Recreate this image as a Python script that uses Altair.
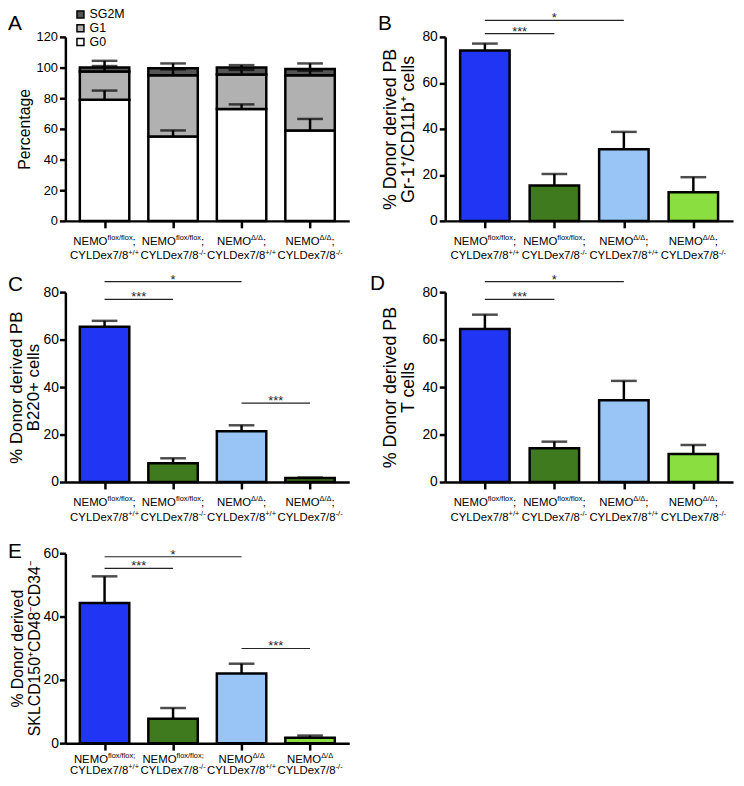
import altair as alt
import pandas as pd

FONT = "Liberation Sans"

# ---------------- data ----------------
idx = [0, 1, 2, 3]
nemo_sup = ["flox/flox", "flox/flox", "Δ/Δ", "Δ/Δ"]
cyld_sup = ["+/+", "-/-", "+/+", "-/-"]
bar_colors = ["#2136f4", "#3f7a1f", "#99c4f6", "#8ade40"]
bar_colors_c = ["#2136f4", "#3f7a1f", "#99c4f6", "#3f741f"]

# Panel A (stacked, cell cycle)
phases = ["SG2M", "G1", "G0"]
phase_colors = ["#555555", "#b1b1b1", "#ffffff"]
a_g0 = [79.0, 55.0, 73.0, 59.0]
a_g0_err = [6.0, 4.0, 3.0, 7.5]
a_g1 = [18.5, 40.0, 22.5, 36.0]
a_g1_err = [3.5, 3.8, 3.0, 3.0]
a_sg2m = [2.5, 4.5, 4.5, 4.0]
a_sg2m_err = [4.4, 3.2, 1.6, 3.7]

# Panel B
b_vals = [74.1, 15.4, 31.2, 12.5]
b_errs = [3.0, 5.0, 7.5, 6.5]
b_sig_from = [0, 0]
b_sig_to = [1, 2]
b_sig_y = [81.4, 87.2]
b_sig_txt = ["***", "*"]

# Panel C
c_vals = [65.4, 7.9, 21.4, 1.7]
c_errs = [2.5, 2.1, 2.5, 0.2]
c_sig_from = [0, 0, 2]
c_sig_to = [1, 2, 3]
c_sig_y = [76.9, 84.4, 33.2]
c_sig_txt = ["***", "*", "***"]

# Panel D
d_vals = [64.5, 14.2, 34.4, 11.8]
d_errs = [6.0, 2.8, 8.2, 3.8]
d_sig_from = [0, 0]
d_sig_to = [1, 2]
d_sig_y = [76.9, 84.4]
d_sig_txt = ["***", "*"]

# Panel E
e_vals = [44.3, 7.7, 22.0, 1.7]
e_errs = [8.4, 3.4, 3.1, 0.7]
e_sig_from = [0, 0, 2]
e_sig_to = [1, 2, 3]
e_sig_y = [55.2, 58.9, 29.9]
e_sig_txt = ["***", "*", "***"]

# ---------------- helpers ----------------
WIDTHS = {"N": 722, "E": 667, "M": 833, "O": 778, ";": 278, "f": 278, "l": 222,
          "o": 556, "x": 500, "/": 278, "Δ": 668, "C": 722, "Y": 667, "L": 556,
          "D": 722, "e": 556, "7": 556, "8": 556, "+": 584, "-": 333}


def tw(s, size):
    return sum(WIDTHS.get(ch, 556) for ch in s) * size / 1000.0


XS = alt.Scale(domain=[-0.5, 3.5], nice=False, zero=False)
XAXIS = alt.Axis(values=[0, 1, 2, 3], labels=False, title=None, grid=False,
                 tickSize=7, tickWidth=2.5, domainWidth=2.5)
MAIN, SUP = 11.5, 7.5
BAR_W, CAP_W, LW = 50, 26, 2.5


def xq(field="i"):
    return alt.X(f"{field}:Q", scale=XS, axis=XAXIS)


def label_layers(h, sup1, tail1, off1=21, off2=36):
    layers = []
    y1, y2 = h + off1, h + off2
    groups = {}
    for i in idx:
        groups.setdefault((sup1[i], tail1[i]), []).append(i)
    for (sup, tail), ii in groups.items():
        wm, ws, wt = tw("NEMO", MAIN), tw(sup, SUP), tw(tail, MAIN)
        start = -(wm + ws + wt) / 2
        df = pd.DataFrame({"i": ii, "a": ["NEMO"] * len(ii), "b": [sup] * len(ii), "c": [tail] * len(ii)})
        base = alt.Chart(df)
        layers.append(base.mark_text(align="left", dx=start, fontSize=MAIN, font=FONT).encode(
            x=xq(), y=alt.value(y1), text="a:N"))
        layers.append(base.mark_text(align="left", dx=start + wm, dy=-4, fontSize=SUP, font=FONT).encode(
            x=xq(), y=alt.value(y1), text="b:N"))
        if tail:
            layers.append(base.mark_text(align="left", dx=start + wm + ws, fontSize=MAIN, font=FONT).encode(
                x=xq(), y=alt.value(y1), text="c:N"))
    groups = {}
    for i in idx:
        groups.setdefault(cyld_sup[i], []).append(i)
    for sup, ii in groups.items():
        wm, ws = tw("CYLDex7/8", MAIN), tw(sup, SUP)
        start = -(wm + ws) / 2
        df = pd.DataFrame({"i": ii, "a": ["CYLDex7/8"] * len(ii), "b": [sup] * len(ii)})
        base = alt.Chart(df)
        layers.append(base.mark_text(align="left", dx=start, fontSize=MAIN, font=FONT).encode(
            x=xq(), y=alt.value(y2), text="a:N"))
        layers.append(base.mark_text(align="left", dx=start + wm, dy=-4, fontSize=SUP, font=FONT).encode(
            x=xq(), y=alt.value(y2), text="b:N"))
    return layers


def letter_layer(letter, lx, ly):
    df = pd.DataFrame({"t": [letter]})
    return alt.Chart(df).mark_text(align="left", baseline="top", fontSize=21, font=FONT).encode(
        x=alt.value(lx), y=alt.value(ly), text="t:N")


def y_axis(ymax, step, title, tfs, lfs, lh=None, tpad=4, lpad=2):
    return alt.Axis(values=list(range(0, ymax + 1, step)), title=title, titleFontSize=tfs,
                    titleFontWeight="normal", titleLineHeight=lh or (tfs + 1), labelFontSize=lfs,
                    labelPadding=lpad, tickSize=6, tickWidth=LW, domainWidth=LW, grid=False,
                    titlePadding=tpad)


def bar_panel(vals, errs, colors, ymax, step, title, sig, h, w, letter, lpos, sup1, tail1,
              off1=21, off2=36, tfs=18, lh=None, tpad=4, lpad=2):
    ys = alt.Scale(domain=[0, ymax], nice=False)
    ya = y_axis(ymax, step, title, tfs, 14, lh, tpad, lpad)
    df = pd.DataFrame({"i": idx, "v": vals, "top": [v + e for v, e in zip(vals, errs)], "col": colors})
    bars = alt.Chart(df).mark_bar(width=BAR_W, stroke="black", strokeWidth=LW).encode(
        x=xq(), y=alt.Y("v:Q", scale=ys, axis=ya), color=alt.Color("col:N", scale=None))
    err = alt.Chart(df).mark_rule(strokeWidth=LW, color="black").encode(
        x=xq(), y=alt.Y("v:Q", scale=ys, axis=ya), y2="top:Q")
    caps = alt.Chart(df).mark_tick(orient="horizontal", size=CAP_W, thickness=LW, color="black").encode(
        x=xq(), y=alt.Y("top:Q", scale=ys, axis=ya))
    fr, to, yy, tx = sig
    sdf = pd.DataFrame({"x1": fr, "x2": to, "y": yy, "t": tx,
                        "xm": [(a + b) / 2 for a, b in zip(fr, to)]})
    srule = alt.Chart(sdf).mark_rule(strokeWidth=1.2, color="#222222").encode(
        x=xq("x1"), x2="x2:Q", y=alt.Y("y:Q", scale=ys, axis=ya))
    stext = alt.Chart(sdf).mark_text(baseline="alphabetic", dy=2, fontSize=13, font=FONT,
                                     color="#222222").encode(
        x=xq("xm"), y=alt.Y("y:Q", scale=ys, axis=ya), text="t:N")
    layers = [bars, err, caps, srule, stext] + label_layers(h, sup1, tail1, off1, off2) + \
        [letter_layer(letter, *lpos)]
    return alt.layer(*layers).properties(width=w, height=h)


# ---------------- layout sizes ----------------
H1, H2, H3 = 186, 192, 192
W1, W2 = 287, 291

# ---------------- Panel A ----------------
rows_a = []
for i in idx:
    segs = [("G0", 0.0, a_g0[i], a_g0_err[i]),
            ("G1", a_g0[i], a_g0[i] + a_g1[i], a_g1_err[i]),
            ("SG2M", a_g0[i] + a_g1[i], a_g0[i] + a_g1[i] + a_sg2m[i], a_sg2m_err[i])]
    for ph, y0, y1, e in segs:
        rows_a.append({"i": i, "phase": ph, "y0": y0, "y1": y1, "top": y1 + e})
dfa = pd.DataFrame(rows_a)
ysa = alt.Scale(domain=[0, 120], nice=False)
yaa = y_axis(120, 20, "Percentage", 16, 13)
a_bars = alt.Chart(dfa).mark_bar(width=BAR_W, stroke="black", strokeWidth=LW).encode(
    x=xq(),
    y=alt.Y("y0:Q", scale=ysa, axis=yaa),
    y2="y1:Q",
    color=alt.Color("phase:N", scale=alt.Scale(domain=phases, range=phase_colors),
                    legend=alt.Legend(orient="none", legendX=9, legendY=-29, title=None,
                                      symbolType="square", symbolSize=50,
                                      symbolStrokeColor="black", symbolStrokeWidth=1.5,
                                      labelFontSize=12.5, labelFont=FONT, rowPadding=0,
                                      labelOffset=3, padding=0)))
a_err = alt.Chart(dfa).mark_rule(strokeWidth=LW, color="black").encode(
    x=xq(), y=alt.Y("y1:Q", scale=ysa, axis=yaa), y2="top:Q")
a_caps = alt.Chart(dfa).mark_tick(orient="horizontal", size=CAP_W, thickness=LW, color="black").encode(
    x=xq(), y=alt.Y("top:Q", scale=ysa, axis=yaa))
panel_a = alt.layer(a_bars, a_err, a_caps,
                    *label_layers(H1, nemo_sup, [";"] * 4),
                    letter_layer("A", -58, -24)).properties(width=W1, height=H1)

panel_b = bar_panel(b_vals, b_errs, bar_colors, 80, 20,
                    ["% Donor derived  PB", "Gr-1⁺/CD11b⁺ cells"],
                    (b_sig_from, b_sig_to, b_sig_y, b_sig_txt), H1, W2, "B", (-68, -24),
                    nemo_sup, [";"] * 4)
panel_c = bar_panel(c_vals, c_errs, bar_colors_c, 80, 20,
                    ["% Donor derived PB", "B220+ cells"],
                    (c_sig_from, c_sig_to, c_sig_y, c_sig_txt), H2, W1, "C", (-58, -18),
                    nemo_sup, [";"] * 4, tfs=17, lh=17, tpad=1, lpad=1)
panel_d = bar_panel(d_vals, d_errs, bar_colors, 80, 20,
                    ["% Donor derived PB", "T cells"],
                    (d_sig_from, d_sig_to, d_sig_y, d_sig_txt), H2, W2, "D", (-76, -19),
                    nemo_sup, [";"] * 4)
panel_e = bar_panel(e_vals, e_errs, bar_colors, 60, 20,
                    ["% Donor derived", "SKLCD150⁺CD48⁻CD34⁻"],
                    (e_sig_from, e_sig_to, e_sig_y, e_sig_txt), H3, W1, "E", (-58, -12),
                    ["flox/flox;", "flox/flox;", "Δ/Δ", "Δ/Δ"], ["", "", "", ""],
                    off1=17, off2=28, tfs=16, lh=17, tpad=1, lpad=1)

chart = alt.concat(panel_a, panel_b, panel_c, panel_d, panel_e, columns=2,
                   spacing={"row": 72, "column": 97}, bounds="flush", align="each").properties(
    autosize=alt.AutoSizeParams(type="none"),
    padding={"left": 58, "top": 25, "right": 678, "bottom": 745},
).configure_view(stroke=None).configure_axis(
    labelFont=FONT, titleFont=FONT, labelColor="black", titleColor="black",
    domainColor="black", tickColor="black"
).configure_text(font=FONT)

chart.save("out.html", embed_options={"renderer": "svg", "actions": False})
